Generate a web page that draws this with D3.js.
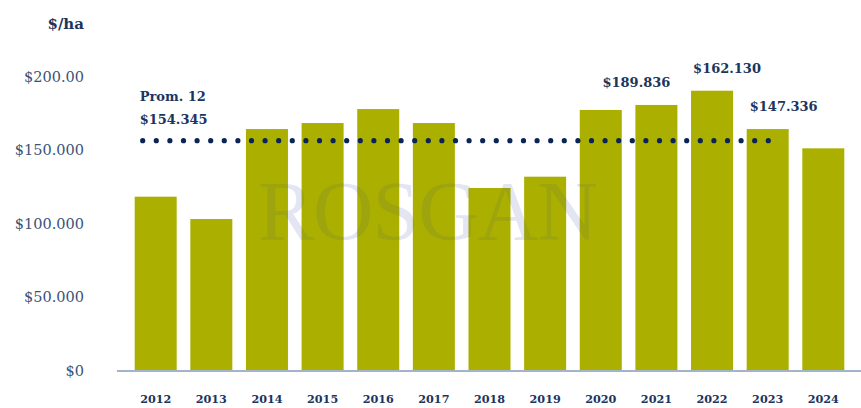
<!DOCTYPE html>
<html><head><meta charset="utf-8">
<script src="https://cdn.jsdelivr.net/npm/d3@7"></script>
<style>html,body{margin:0;padding:0;background:#fff;}svg{display:block;}</style>
</head><body>
<svg id="chart" width="861" height="408"></svg>
<script>
const years = ["2012","2013","2014","2015","2016","2017","2018","2019","2020","2021","2022","2023","2024"];
const values = [117900, 102700, 163900, 168000, 177500, 168000, 123800, 131500, 176900, 180300, 190000, 163900, 150800];
const yTickValues = [0, 50000, 100000, 150000, 200000];
const yTickLabels = ["$0", "$50.000", "$100.000", "$150.000", "$200.00"];
const averageValue = 156000;
const averageLabels = ["Prom. 12", "$154.345"];
const annotationYears = ["2021", "2022", "2023"];
const annotationTexts = ["$189.836", "$162.130", "$147.336"];
const unitLabel = "$/ha";

const svg = d3.select("#chart");
const navy = "#1c355e";
const tickColor = "#3a5378";
const barColor = "#abb000";

const x = d3.scaleBand().domain(years).range([118, 861]).paddingInner(0.245).paddingOuter(0.3);
const y = d3.scaleLinear().domain([0, 200000]).range([370, 76]);

// clip path made of bars
svg.append("defs").append("clipPath").attr("id", "barsClip")
  .selectAll("rect").data(years).join("rect")
  .attr("x", d => x(d)).attr("width", x.bandwidth())
  .attr("y", (d, i) => y(values[i])).attr("height", (d, i) => y(0) - y(values[i]));

// watermark (background)
svg.append("text").attr("x", 428).attr("y", 240).attr("text-anchor", "middle")
  .attr("font-family", "Liberation Serif").attr("font-size", 84)
  .attr("fill", "#7f8fc4").attr("fill-opacity", 0.22).attr("textLength", 340)
  .text("ROSGAN");

// bars
svg.append("g").selectAll("rect").data(years).join("rect")
  .attr("x", d => x(d)).attr("width", x.bandwidth())
  .attr("y", (d, i) => y(values[i])).attr("height", (d, i) => y(0) - y(values[i]))
  .attr("fill", barColor);

// watermark overlay on bars
svg.append("text").attr("x", 428).attr("y", 240).attr("text-anchor", "middle")
  .attr("clip-path", "url(#barsClip)")
  .attr("font-family", "Liberation Serif").attr("font-size", 84)
  .attr("fill", "#5e6a50").attr("fill-opacity", 0.16).attr("textLength", 340)
  .text("ROSGAN");

// baseline
svg.append("line").attr("x1", 117).attr("x2", 861).attr("y1", y(0) + 1).attr("y2", y(0) + 1)
  .attr("stroke", "#a3b3c9").attr("stroke-width", 2);

// y axis
const yAxis = d3.axisLeft(y).tickValues(yTickValues).tickSize(0).tickPadding(0)
  .tickFormat((d, i) => yTickLabels[i]);
const gy = svg.append("g").attr("transform", "translate(84,0)").call(yAxis);
gy.select(".domain").remove();
gy.selectAll("text").attr("font-family", "DejaVu Serif").attr("font-size", 14.5)
  .attr("fill", tickColor).attr("dy", "0.35em");

svg.append("text").attr("x", 84).attr("y", 29).attr("text-anchor", "end")
  .attr("font-family", "DejaVu Serif").attr("font-weight", "bold").attr("font-size", 15)
  .attr("fill", navy).text(unitLabel);

// x axis
const xAxis = d3.axisBottom(x).tickSize(0).tickPadding(0);
const gx = svg.append("g").attr("transform", "translate(0,399)").call(xAxis);
gx.select(".domain").remove();
gx.selectAll("text").attr("font-family", "DejaVu Serif").attr("font-weight", "bold")
  .attr("font-size", 11.2).attr("fill", navy).attr("dy", "0.35em");

// average dotted line
const avgY = y(averageValue);
svg.append("line")
  .attr("x1", x("2012") + 8).attr("x2", x("2023") + x.bandwidth() / 2 + 2)
  .attr("y1", avgY).attr("y2", avgY)
  .attr("stroke", "#0b2456").attr("stroke-width", 5.2).attr("stroke-linecap", "round")
  .attr("stroke-dasharray", "0 13.6");

svg.append("g").selectAll("text").data(averageLabels).join("text")
  .attr("x", x("2012") + 5).attr("y", (d, i) => avgY - 40 + i * 23)
  .attr("font-family", "DejaVu Serif").attr("font-weight", "bold").attr("font-size", 13)
  .attr("fill", navy).text(d => d);

// annotations
const annDx = [-20, 15, 16];
svg.append("g").selectAll("text").data(annotationYears).join("text")
  .attr("x", (d, i) => x(d) + x.bandwidth() / 2 + annDx[i])
  .attr("y", d => y(values[years.indexOf(d)]) - 18)
  .attr("text-anchor", "middle")
  .attr("font-family", "DejaVu Serif").attr("font-weight", "bold").attr("font-size", 13)
  .attr("fill", navy).text((d, i) => annotationTexts[i]);
</script>
</body></html>
